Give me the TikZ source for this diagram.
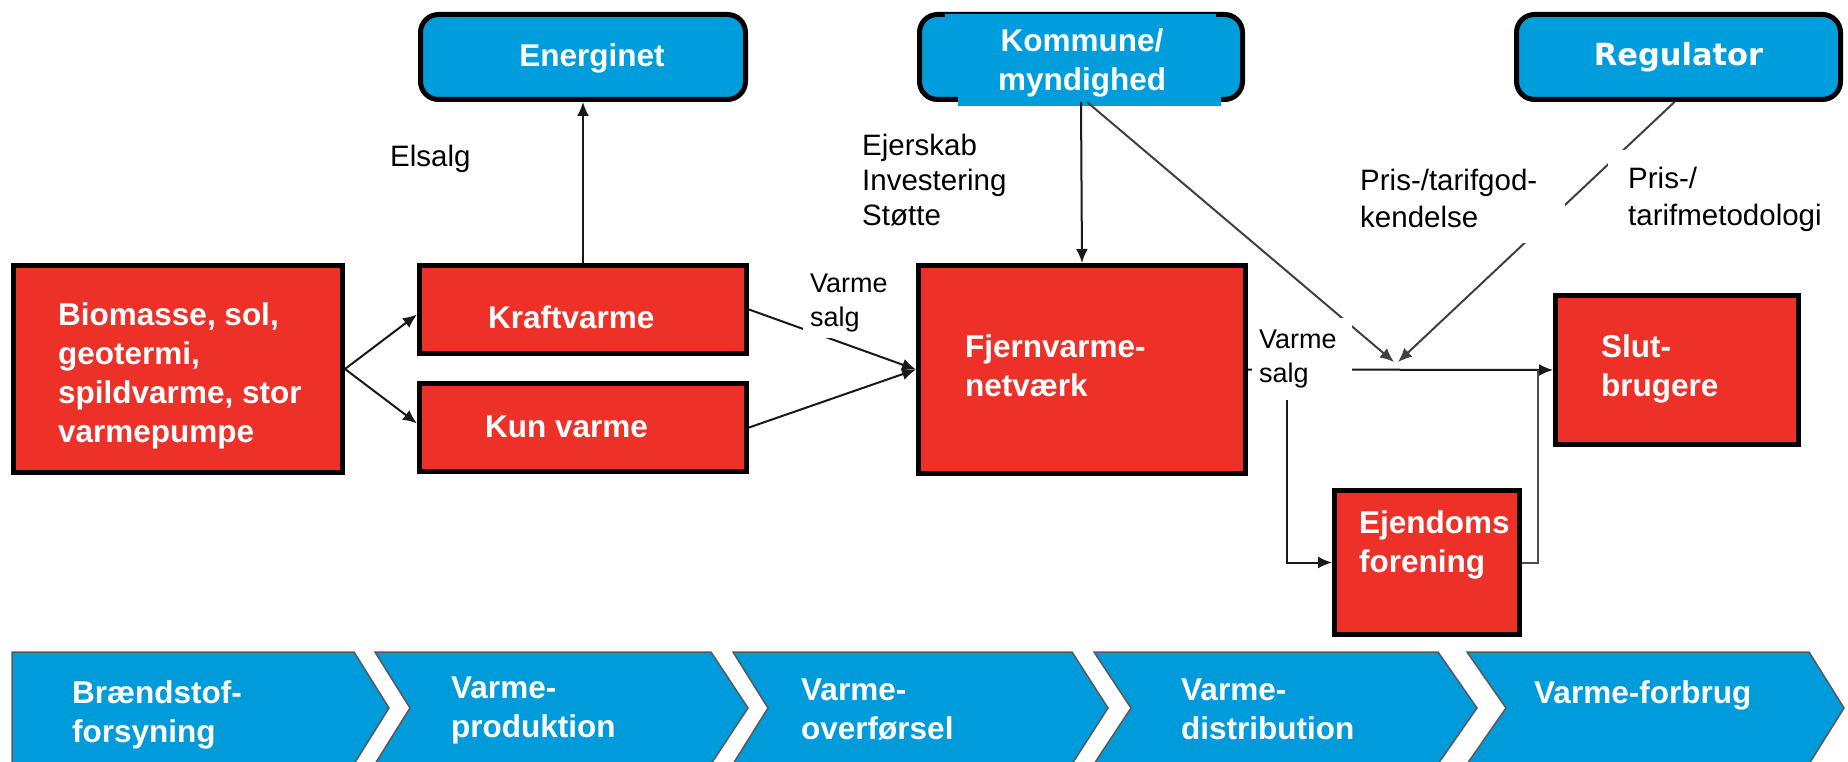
\documentclass[tikz,border=0pt]{standalone}
\usepackage{fontspec}
\setmainfont{Liberation Sans}
\newfontfamily\regfont{DejaVu Sans}
\usetikzlibrary{arrows.meta,calc}
\definecolor{myred}{RGB}{237,49,41}
\definecolor{myblue}{RGB}{0,157,220}
\definecolor{chevblue}{RGB}{0,155,219}
\begin{document}
\begin{tikzpicture}[x=1pt,y=-1pt,
  redbox/.style={draw=black, line width=5pt, fill=myred, inner sep=0pt},
  bluebox/.style={draw=black, line width=5pt, fill=myblue, rounded corners=18pt, inner sep=0pt},
  wtext/.style={text=white, font=\bfseries\fontsize{31.5}{39}\selectfont, align=left, inner sep=0pt},
  lbl/.style={font=\fontsize{29.5}{36}\selectfont, align=left, inner sep=0pt, anchor=west},
  wlbl/.style={fill=white, anchor=north west, inner ysep=0pt, align=left},
  conn/.style={line width=2pt, draw=black!90},
  arr/.style={conn, -{Latex[length=14pt,width=12pt]}},
  chev/.style={fill=chevblue, draw=black!65, line width=1.5pt, line join=miter}
]
\useasboundingbox (0,0) rectangle (1848,762);
\fill[white] (0,0) rectangle (1848,762);

% chevrons
\draw[chev] (12,652) -- (354,652) -- (389,708) -- (354,764) -- (12,764) -- cycle;
\draw[chev] (375,652) -- (711,652) -- (748,708) -- (711,764) -- (375,764) -- (410,708) -- cycle;
\draw[chev] (733,652) -- (1072,652) -- (1108,708) -- (1072,764) -- (733,764) -- (768,708) -- cycle;
\draw[chev] (1094,652) -- (1438,652) -- (1477,708) -- (1438,764) -- (1094,764) -- (1131,708) -- cycle;
\draw[chev] (1467,652) -- (1809,652) -- (1844,708) -- (1809,764) -- (1467,764) -- (1506,708) -- cycle;
\node[wtext, anchor=west] (ch1t) at (72,715) {Brændstof-\\forsyning};
\node[wtext, anchor=west] (ch2t) at (451,710) {Varme-\\produktion};
\node[wtext, anchor=west] (ch3t) at (801,710) {Varme-\\overførsel};
\node[wtext, anchor=west] (ch4t) at (1181,709) {Varme-\\distribution};
\node[wtext, anchor=west] (ch5t) at (1534,695) {Varme-forbrug};

% boxes
\node[bluebox, minimum width=325, minimum height=85] (energinet) at (583,57) {};
\node[bluebox, minimum width=323, minimum height=85] (kommune) at (1081,57) {};
\node[bluebox, minimum width=324, minimum height=85, text=white,
      font=\regfont\bfseries\fontsize{30.5}{36}\selectfont] (regulator) at (1678.5,57) {Regulator};
\node[redbox, minimum width=329, minimum height=207] (biomasse) at (178,369) {};
\node[redbox, minimum width=327, minimum height=88] (kraftvarme) at (583,309.5) {};
\node[redbox, minimum width=327, minimum height=88] (kunvarme) at (583,427.5) {};
\node[redbox, minimum width=327, minimum height=208] (fjern) at (1082,369.5) {};
\node[redbox, minimum width=243, minimum height=149] (slut) at (1677,370) {};
\node[redbox, minimum width=185, minimum height=144] (ejendom) at (1427,562.5) {};

% blue patches over the Kommune box
\fill[myblue] (945,14) rectangle (1216,60);
\fill[myblue] (958,56) rectangle (1221,106);

% connectors
\coordinate (meet1) at (1394,362);
\coordinate (meet2) at (1398,362);
\coordinate (split) at (1287,370);
\draw[arr] (kraftvarme.north) -- (energinet.south);
\draw[arr] (biomasse.east) -- ($(kraftvarme.west)+(0,5)$);
\draw[arr] (biomasse.east) -- ($(kunvarme.west)+(0,-4)$);
\draw[arr] (kraftvarme.east) -- (fjern.west);
\draw[arr] (kunvarme.east) -- (fjern.west);
\draw[arr] (kommune.south) -- (fjern.north);
\draw[arr, draw=black!75] ($(kommune.south)+(6,0)$) -- (meet1);
\draw[arr, draw=black!75] ($(regulator.south)+(-4,0)$) -- (meet2);
\draw[arr] (fjern.east) -- (slut.west);
\draw[arr] (split) |- (ejendom.west);
\draw[conn, draw=black!70] (ejendom.east) -| ($(slut.west)+(-15,0)$);

% labels
\node[lbl] (elsalg) at (390,159) {Elsalg};
\node[lbl, font=\fontsize{29.5}{35}\selectfont] (ejerskab) at (862,180) {Ejerskab\\Investering\\Støtte};
\node[wlbl, minimum width=97, minimum height=70, text width=83, inner xsep=7pt,
      font=\fontsize{27}{34}\selectfont] (varme1) at (803,268) {Varme\\salg};
\node[wlbl, minimum width=100, minimum height=82, text width=86, inner xsep=7pt,
      font=\fontsize{27}{34}\selectfont] (varme2) at (1252,318) {Varme\\salg};
\node[wlbl, minimum width=213, minimum height=89, text width=197, inner xsep=8pt,
      font=\fontsize{29.5}{37}\selectfont] (pris1) at (1352,154) {Pris-/tarifgod-\\kendelse};
\node[wlbl, minimum width=245, minimum height=99, text width=205, inner xsep=20pt,
      font=\fontsize{29.5}{37}\selectfont] (pris2) at (1608,150) {Pris-/\\tarifmetodologi};

% box texts
\node[wtext, anchor=base] (energinett) at (592,67) {Energinet};
\node[wtext, align=center] (kommunet) at (1082,63) {Kommune/\\myndighed};
\node[wtext, anchor=west] (biot) at (58,376) {Biomasse, sol,\\geotermi,\\spildvarme, stor\\varmepumpe};
\node[wtext, anchor=west] (kraftt) at (488,317) {Kraftvarme};
\node[wtext, anchor=west] (kunt) at (485,427) {Kun varme};
\node[wtext, anchor=west] (fjernt) at (965,366) {Fjernvarme-\\netværk};
\node[wtext, anchor=west] (slutt) at (1601,369) {Slut-\\brugere};
\node[wtext, anchor=west] (ejent) at (1359,545) {Ejendoms\\forening};
\end{tikzpicture}
\end{document}
